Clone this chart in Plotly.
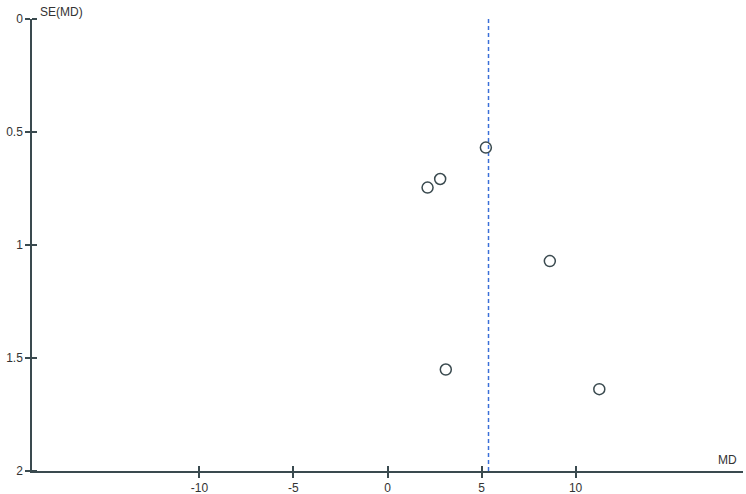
import plotly.graph_objects as go

# study estimates
md = [5.23, 2.80, 2.13, 8.63, 3.10, 11.26]
se_md = [0.569, 0.708, 0.746, 1.071, 1.551, 1.638]
pooled_md = 5.37

x_ticks = [-10, -5, 0, 5, 10]
x_labels = ["-10", "-5", "0", "5", "10"]
y_ticks = [0, 0.5, 1, 1.5, 2]
y_labels = ["0", "0.5", "1", "1.5", "2"]

axis_col = "#3a4a4f"
txt_col = "#333333"

fig = go.Figure()

# pooled estimate line
fig.add_trace(go.Scatter(x=[pooled_md, pooled_md], y=[0, 2], mode="lines",
                         line=dict(color="#3a6fd8", width=1.5, dash="4px,3px"),
                         hoverinfo="skip", showlegend=False))

fig.add_trace(go.Scatter(x=md, y=se_md, mode="markers",
                         marker=dict(symbol="circle-open", size=11, color=axis_col,
                                     line=dict(width=1.5, color=axis_col)),
                         showlegend=False))

fig.update_layout(
    width=746, height=494,
    margin=dict(l=32, r=3, t=19, b=23, autoexpand=False),
    paper_bgcolor="white", plot_bgcolor="white",
    font=dict(family="Liberation Sans, Arial", size=12, color=txt_col),
    xaxis=dict(range=[-18.9, 18.9], tickvals=x_ticks, ticktext=x_labels,
               showgrid=False, zeroline=False,
               showline=True, linecolor=axis_col, linewidth=1.5, automargin=False,
               ticks="outside", ticklen=5, tickcolor=axis_col, tickwidth=1.5,
               # inner half of the crossing ticks
               minor=dict(tickvals=x_ticks, ticks="inside", ticklen=5,
                          tickcolor=axis_col, tickwidth=1.5, showgrid=False)),
    yaxis=dict(range=[2, 0], tickvals=y_ticks, ticktext=y_labels, showgrid=False,
               zeroline=False, showline=True, linecolor=axis_col, linewidth=1.5,
               automargin=False, ticks="outside", ticklen=5, tickcolor=axis_col,
               tickwidth=1.5,
               minor=dict(tickvals=y_ticks, ticks="inside", ticklen=5,
                          tickcolor=axis_col, tickwidth=1.5, showgrid=False)),
)

fig.add_annotation(text="SE(MD)", xref="paper", yref="paper", x=0.0, y=1.0,
                   xanchor="left", yanchor="bottom", xshift=6, yshift=-2,
                   showarrow=False, font=dict(size=12, color=txt_col))
fig.add_annotation(text="MD", xref="paper", yref="paper", x=1.0, y=0.0,
                   xanchor="right", yanchor="bottom", xshift=-4, yshift=2,
                   showarrow=False, font=dict(size=12, color=txt_col))

# drop the default 8px body margin so the figure fills the window
fig.write_html("out.html", config={"displayModeBar": False},
               post_script="document.body.style.margin='0';")
